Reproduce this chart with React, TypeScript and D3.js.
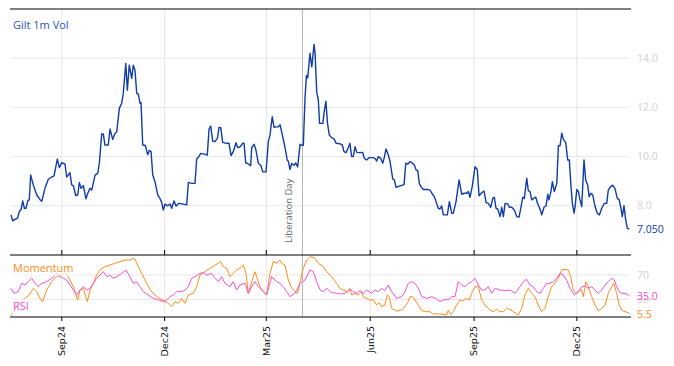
import React from "react";
import * as d3 from "d3";

// Day offsets are calendar days since START
const START = "2024-07-18";
const END_OFFSET = 547.4;

const volSeries: [number, number][] = [
  [0,7.63],[1.5,7.39],[3.5,7.45],[5.9,7.5],[7.3,7.76],[8.9,7.85],[10.4,8.2],[11.8,7.9],[13.3,7.9],[14.8,8.2],[16.2,8.25],[17.4,9.25],[19.7,8.85],[22.8,8.44],[25.7,8.25],[27.2,8.18],[30.1,8.71],[33,9.08],[36,9.17],[38.1,9.22],[41,9.9],[42.8,9.55],[44.9,9.75],[47.8,9.7],[49.3,9.17],[52.2,9.35],[53.7,8.85],[55.2,8.82],[57.3,8.42],[59.1,8.44],[60.5,8.95],[62,8.71],[64,8.82],[66.4,8.28],[67.9,8.5],[69.9,8.71],[71.5,8.64],[74.4,9.25],[76.8,9.32],[78.2,9.73],[80.3,10.92],[81.7,10.92],[83.2,10.47],[86.1,10.47],[87.7,11.12],[90,10.7],[92.1,10.95],[93.6,11.0],[95.9,11.96],[98,12.17],[99.4,12.57],[101.6,13.79],[103,12.7],[104.7,13.72],[106.9,13.18],[108.3,13.72],[109.8,13.5],[111.3,12.57],[112.7,12.55],[114.2,12.17],[115.1,12.2],[116.6,10.47],[118.9,10.45],[121,10.08],[122.5,10.25],[124,10.2],[125.5,9.25],[127.5,8.98],[129.9,8.44],[131.9,8.3],[133.4,8.14],[134.8,7.83],[136.4,8.07],[138.7,8.0],[140.8,8.07],[142.3,7.9],[144.3,8.2],[146.1,7.99],[148.7,8.1],[152.6,8.07],[155.6,8.04],[157,8.95],[160,8.91],[162.9,8.91],[164.4,9.9],[165.8,9.97],[168,10.13],[171.8,10.09],[173.8,10.06],[175.3,11.11],[176.8,11.24],[178.6,10.63],[180.6,10.61],[182.7,10.74],[184.2,11.19],[185.7,11.18],[187.4,10.58],[191,10.54],[193,10.54],[194.8,10.04],[196.8,10.2],[199.2,10.56],[200.7,10.37],[202.8,10.4],[205.1,10.54],[206.3,10.54],[207.8,9.75],[210.1,9.7],[212.2,9.63],[213.1,10.37],[215.2,10.5],[216.7,10.3],[219,9.72],[221.1,9.65],[222.9,9.38],[225.8,9.38],[227.8,10.6],[229.3,10.88],[231.3,11.62],[232.9,11.19],[234.6,11.21],[236.7,11.21],[238.2,11.3],[240.6,10.8],[242.6,10.37],[244.6,9.85],[245.5,9.82],[247,9.47],[248.5,9.72],[250.6,9.65],[252.1,9.74],[253.8,9.58],[255.9,10.5],[257.4,10.46],[258.8,10.46],[260.3,12.4],[261.6,13.3],[262.7,13.2],[264.7,14.2],[266.3,13.65],[268.3,14.56],[269.2,14.2],[270.7,12.6],[272.1,12.3],[273.2,11.35],[276.1,11.35],[277.2,11.8],[278.8,12.25],[280.2,11.35],[281.8,10.88],[283.9,10.77],[286,10.72],[287.8,10.54],[291.3,10.52],[293.3,10.48],[294.8,10.2],[296.6,10.16],[298.6,10.36],[300.1,10.54],[301.6,10.0],[303,10.0],[304.6,10.4],[306.1,10.17],[308.4,10.16],[311.4,10.17],[312.8,9.93],[314.9,9.86],[317.2,9.96],[320.2,9.96],[322.3,9.93],[323.8,9.82],[325.2,10.0],[327.3,9.93],[329.1,9.73],[330.3,9.93],[332,10.31],[334.1,10.06],[335.6,9.8],[338,9.08],[339.4,9.05],[340.9,8.75],[343.8,8.8],[346.8,8.84],[348,8.87],[349.5,9.73],[351.2,9.69],[353.3,9.8],[354.8,9.75],[357.1,9.66],[358.6,9.46],[360.1,9.43],[361.5,8.91],[363,8.77],[365.1,8.66],[367.4,8.66],[369.5,8.66],[371,8.64],[373,8.48],[374.8,8.37],[376.3,8.17],[378.3,7.9],[379.8,7.87],[381.3,8.0],[382.8,7.63],[384.3,7.63],[386.3,7.63],[388.1,8.17],[390.2,7.7],[391.6,7.7],[394,8.17],[396.7,9.05],[399,8.47],[401.1,8.51],[403.5,8.51],[404.9,8.58],[406.4,8.35],[408.4,8.8],[410.8,9.59],[412.8,9.48],[414.4,8.41],[416.7,8.53],[418.8,8.6],[420.6,8.13],[422.6,8.1],[424.7,7.94],[426.5,8.3],[427.9,8.35],[429.4,7.9],[430.9,7.87],[433,7.56],[434.5,7.94],[435.9,7.56],[437.4,8.1],[439.8,8.08],[441.2,7.94],[443.3,7.94],[445.6,7.83],[447.8,7.56],[449.8,7.54],[451.6,7.97],[453.1,8.35],[454.5,8.3],[456.6,9.12],[458,8.62],[459.5,8.58],[461,8.24],[462.5,8.3],[464.6,8.35],[466.3,8.08],[468.4,7.86],[469.9,7.63],[471.9,7.94],[473.7,8.0],[475.2,8.47],[476.3,8.24],[478.1,8.6],[479.3,8.98],[481,8.58],[483.2,8.91],[484.6,10.44],[486.1,10.44],[487.6,10.95],[489,10.7],[491.1,10.58],[492.9,9.86],[494.3,9.86],[495.8,8.78],[497,8.1],[498.5,7.7],[499.4,7.97],[500.9,8.66],[502.3,8.58],[503.8,8.24],[505.3,7.97],[507.3,9.86],[508.8,9.05],[510.6,8.84],[511.8,8.37],[513.5,8.51],[515,8.44],[517.1,7.97],[519.1,7.7],[520.9,7.63],[523,7.9],[525.3,8.1],[527.4,8.1],[528.8,8.64],[530.3,8.75],[532.7,8.84],[534.7,8.71],[536.8,8.3],[538.5,8.24],[540,7.9],[541.2,7.56],[542.7,8.0],[544.2,7.43],[545.6,7.09],[547.4,7.05]
];

const momentumSeries: [number, number][] = [
  [0,3],[6.5,23.3],[16.2,37],[19.8,48],[22.7,42.5],[25.7,31.5],[28,26.1],[31.6,45.3],[36,59],[40.4,67.2],[44.9,69.9],[47.8,73.8],[49.3,71.6],[52.2,61.7],[55.2,50.7],[59,28.8],[61.1,45.3],[64,48],[67.6,26.1],[70,45.3],[72.9,56.2],[75.8,69.9],[78.8,78.2],[83.2,83.7],[87.6,86.4],[92.1,89.2],[96.5,91.9],[100.9,94.6],[105.3,94.6],[108.3,97.4],[109.8,95.7],[112.7,83.7],[115.7,72.7],[120.1,56.2],[124.5,42.5],[129,34.3],[134.9,27.7],[139.3,23.3],[142.2,17.8],[145.2,26.1],[148.1,23.3],[151.1,31.5],[154,23.3],[157,37],[161.4,39.8],[164.4,50.7],[167.3,69.9],[171.7,75.4],[176.2,80.9],[180.6,86.4],[183.6,89.2],[185.6,91.9],[188,83.7],[190.9,80.9],[193.9,67.2],[196.8,72.7],[199.8,78.2],[202.7,80.9],[205.7,86.4],[208,72.7],[210.1,39.8],[213.1,59],[216,75.4],[219,59],[220.4,50.7],[223.4,42.5],[226.3,37],[229.3,72.7],[232.2,91.9],[235.2,89.2],[238.1,94.6],[239.6,89.2],[242.6,86.4],[245.5,61.7],[248.5,48],[251.4,42.5],[253.8,39.8],[255.9,59],[258.8,80.9],[261.8,94.6],[264.7,100.1],[269.1,97.4],[272.1,89.2],[276.5,83.7],[279.5,75.4],[283.9,67.2],[288.3,56.2],[291.3,48],[294.2,45.3],[297.2,42.5],[300.1,48],[301.6,37],[304.5,39.8],[307.5,37],[310.4,42.5],[311.9,34.3],[314.9,31.5],[317.8,28.8],[320.8,28.8],[323.7,20.6],[326.1,24.4],[328.1,17.8],[331.1,20.6],[333.2,37],[334.9,34.3],[337,15.1],[341.4,10.7],[345.9,12.3],[348.8,17.8],[351.7,26.1],[353.2,34.3],[355.6,34.3],[357.6,28.8],[360.6,20.6],[363.6,11.2],[368,9.6],[370.9,9.6],[373.9,5.8],[379.8,5.8],[385.7,4.1],[387.2,12.3],[389.2,4.1],[391.6,9.6],[394.5,20.6],[397.5,28.8],[400.4,27.7],[403.4,31.5],[405.8,28.8],[407.8,39.8],[410.8,50.7],[413.7,50.7],[416.7,28.8],[419.6,20.6],[424,12.3],[427,9.6],[429.9,13.4],[432.9,9.6],[435.9,9.6],[438.8,15.1],[441.8,13.4],[444.7,9.6],[449.1,4.1],[452.1,15.1],[455,37],[458,48],[460.9,39.8],[463.9,34.3],[466.8,20.6],[469.8,9.6],[472.7,15.1],[475.7,34.3],[478.6,50.7],[481.6,56.2],[484.5,64.5],[487.5,78.2],[490.4,79.3],[493.4,78.2],[495.5,67.2],[497.8,45.3],[500.2,39.8],[502.2,42.5],[505.2,45.3],[506.7,34.3],[509,59],[511.1,50.7],[514.1,34.3],[517,20.6],[520,10.7],[522.9,15.1],[525.9,20.6],[528.8,39.8],[531.8,50.7],[533.8,56.2],[536.2,39.8],[538.5,20.6],[540.6,12.3],[543.6,9.6],[546.5,7.9],[547.4,5.5]
];

const rsiSeries: [number, number][] = [
  [0,48],[2.7,39.8],[6.5,42.5],[9.4,56.2],[12.4,53.5],[15.3,59],[18.3,64.5],[21.2,56.2],[24.2,50.7],[27.1,56.2],[31.6,59],[36,64.5],[40.4,71.6],[43.4,67.2],[46.3,64.5],[49.3,61.7],[52.2,53.5],[55.2,45.3],[58.1,37],[61.1,45.3],[64,50.7],[67,45.3],[70,48],[72.9,56.2],[75.8,64.5],[78.8,69.9],[81.7,75.4],[84.7,67.2],[87.6,69.9],[90.6,64.5],[93.5,67.2],[98,72.7],[101.8,78.2],[105.3,67.2],[108.3,56.2],[111.2,59],[114.2,50.7],[117.2,42.5],[121.6,37],[126,31.5],[130.4,28.8],[134.9,26.1],[137.8,28.8],[140.8,34.3],[143.7,37],[146.7,42.5],[151.1,42.5],[154,45.3],[157,50.7],[159.9,64.5],[162.9,67.2],[167.3,72.7],[170.3,73.8],[173.2,69.9],[177.6,72.7],[180.6,64.5],[183.6,59],[186.5,67.2],[189.5,56.2],[193.9,50.7],[196.8,59],[199.8,45.3],[202.7,53.5],[207.2,56.2],[210.1,39.8],[213.1,50.7],[216,59],[219,50.7],[223.4,42.5],[226.3,37],[230.8,67.2],[235.2,59],[238.1,56.2],[241.1,50.7],[244,42.5],[247,34.3],[251.4,39.8],[255.9,56.2],[260.3,61.7],[264.7,78.2],[267.7,75.4],[270.6,59],[273.6,45.3],[276.5,42.5],[279.5,48],[283.9,40.9],[285.4,40.9],[288.3,39.8],[292.7,38.7],[297.2,40.9],[300.1,46.4],[303.1,42.5],[306,39.8],[309,44.2],[311.9,39.8],[314.9,45.3],[319.3,39.8],[322.2,45.3],[325.2,42.5],[328.1,48],[331.1,44.2],[334,53.5],[337,42.5],[341.4,31.5],[345.9,34.3],[348.8,42.5],[351.7,56.2],[354.7,59],[357.6,56.2],[360.6,48],[363.6,34.3],[368,31.5],[372.4,34.3],[376.2,31.5],[379.8,26.1],[384.2,29.9],[387.2,28.8],[390.1,34.3],[393.1,34.3],[396,59],[399,53.5],[401.9,50.7],[404.9,56.2],[407.8,59],[410.8,64.5],[413.7,53.5],[416.7,45.3],[419.6,45.3],[422.6,50.7],[425.5,39.8],[428.5,48],[432.9,45.3],[437.3,44.2],[441.8,45.3],[446.2,39.8],[450.6,50.7],[453.6,59],[456.5,62.8],[459.5,53.5],[462.4,50.7],[465.4,42.5],[468.3,39.8],[471.3,48],[474.2,56.2],[477.2,56.2],[480.1,59],[483.1,64.5],[486,72.7],[489,69.9],[491.9,61.7],[494.9,48],[498.7,37],[502.2,42.5],[505.2,50.7],[508.1,51.8],[511.1,48],[514.1,50.7],[517,45.3],[520,39.8],[522.9,45.3],[525.9,53.5],[528.8,59],[531.8,64.5],[534.1,61.7],[536.2,50.7],[538.5,42.5],[540.6,39.8],[543.6,39.8],[546.5,37],[547.4,35]
];

const tickDates = ["2024-09-01", "2024-12-01", "2025-03-01", "2025-06-01", "2025-09-01", "2025-12-01"];
const volTicks = [8, 10, 12, 14];
const oscTicks = [30, 70];
const eventDate = "2025-04-02";
const eventLabel = "Liberation Day";
const volTitle = "Gilt 1m Vol";
const momTitle = "Momentum";
const rsiTitle = "RSI";

const BLUE = "#0f3ca8";
const ORANGE = "#ff8c1a";
const MAGENTA = "#f84fd9";
const GRID = "#e6e6e6";
const TICKGREY = "#d2d2d2";
const FONT = "'Open Sans', 'DejaVu Sans', sans-serif";

export default function App() {
  const W = 674, H = 366;
  const start = new Date(START + "T00:00:00Z");
  const toDate = (d: number) => new Date(start.getTime() + d * 864e5);
  const x = d3.scaleUtc().domain([start, toDate(END_OFFSET)]).range([11, 629.3]);
  const yTop = d3.scaleLinear().domain([6, 16]).range([255, 9]);
  const yBot = d3.scaleLinear().domain([0, 100]).range([317.5, 256.75]);

  const volLine = d3.line<[number, number]>().x(d => x(toDate(d[0]))).y(d => yTop(d[1]));
  const momLine = d3.line<[number, number]>().x(d => x(toDate(d[0]))).y(d => yBot(d[1]));
  const rsiLine = momLine;

  const fmt = d3.utcFormat("%b%y");
  const ticks = tickDates.map(s => new Date(s + "T00:00:00Z"));
  const ev = x(new Date(eventDate + "T00:00:00Z"));

  const xL = 10, xR = 631, gL = 11, gR = 629;
  const topY = 9, midY = 255, botY = 317;
  const lastVol = volSeries[volSeries.length - 1][1];
  const lastMom = momentumSeries[momentumSeries.length - 1][1];
  const lastRsi = rsiSeries[rsiSeries.length - 1][1];
  const labX = 637;

  return (
    <svg width={W} height={H} style={{ position: "absolute", left: 0, top: 0, background: "#fff" }} fontFamily={FONT}>
      {/* gridlines */}
      {ticks.map((t, i) => (
        <g key={"vg" + i}>
          <line x1={x(t)} x2={x(t)} y1={topY} y2={botY} stroke={GRID} strokeWidth={1} />
        </g>
      ))}
      {volTicks.map(v => (
        <line key={"hg" + v} x1={gL} x2={gR} y1={yTop(v)} y2={yTop(v)} stroke={GRID} strokeWidth={1} />
      ))}
      {oscTicks.map(v => (
        <line key={"og" + v} x1={gL} x2={gR} y1={yBot(v)} y2={yBot(v)} stroke={GRID} strokeWidth={1} />
      ))}
      {/* event line */}
      <line x1={ev} x2={ev} y1={topY} y2={botY} stroke="#b4b4b4" strokeWidth={1} />
      <text transform={`translate(${ev - 10},243) rotate(-90)`} fontSize={9.5} fill="#666">{eventLabel}</text>

      {/* series */}
      <path d={volLine(volSeries) || ""} fill="none" stroke={BLUE} strokeWidth={1.4} strokeLinejoin="round" />
      <path d={momLine(momentumSeries) || ""} fill="none" stroke={ORANGE} strokeWidth={1} strokeLinejoin="round" />
      <path d={rsiLine(rsiSeries) || ""} fill="none" stroke={MAGENTA} strokeWidth={1} strokeLinejoin="round" />

      {/* frame lines */}
      <line x1={xL} x2={xR} y1={topY} y2={topY} stroke="#000" strokeWidth={1} />
      <line x1={xL} x2={xR} y1={midY} y2={midY} stroke="#000" strokeWidth={1} />
      <line x1={xL} x2={xR} y1={botY} y2={botY} stroke="#000" strokeWidth={1} />
      {ticks.map((t, i) => (
        <g key={"tk" + i}>
          <line x1={x(t)} x2={x(t)} y1={midY - 5} y2={midY} stroke="#000" strokeWidth={1} />
          <line x1={x(t)} x2={x(t)} y1={botY} y2={botY + 4} stroke="#000" strokeWidth={1} />
          <text transform={`translate(${x(t)},326) rotate(-90)`} textAnchor="end" dy="0.35em" fontSize={9.5} fontFamily="'DejaVu Sans', sans-serif" fill="#111">{fmt(t)}</text>
        </g>
      ))}

      {/* titles */}
      <text x={13} y={29} fontSize={11} fill="#2a55b8">{volTitle}</text>
      <rect x={10} y={261} width={66} height={15} fill="#fff" opacity={0.6} />
      <text x={13} y={272} fontSize={11} fill={ORANGE}>{momTitle}</text>
      <rect x={10} y={299} width={24} height={15} fill="#fff" opacity={0.6} />
      <text x={13} y={310} fontSize={11} fill={MAGENTA}>{rsiTitle}</text>

      {/* right axis labels */}
      {volTicks.map(v => (
        <text key={"vl" + v} x={labX} y={yTop(v)} dy="0.35em" fontSize={10.5} fill={TICKGREY}>{v.toFixed(1)}</text>
      ))}
      <text x={labX} y={yTop(lastVol)} dy="0.35em" fontSize={10.5} fill={BLUE}>{lastVol.toFixed(3)}</text>
      {oscTicks.map(v => (
        <text key={"ol" + v} x={labX} y={yBot(v)} dy="0.35em" fontSize={10.5} fill={TICKGREY}>{v}</text>
      ))}
      <text x={labX} y={yBot(lastRsi)} dy="0.35em" fontSize={10.5} fill={MAGENTA}>{lastRsi.toFixed(1)}</text>
      <text x={labX} y={yBot(lastMom)} dy="0.35em" fontSize={10.5} fill={ORANGE}>{lastMom.toFixed(1)}</text>
    </svg>
  );
}
